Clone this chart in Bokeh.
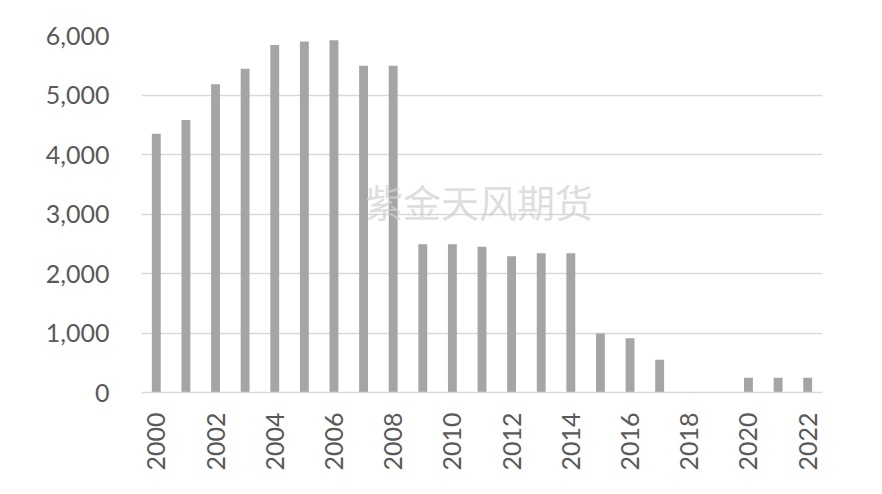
from bokeh.plotting import figure
from bokeh.models import Range1d, FixedTicker, NumeralTickFormatter, Label, CustomJSTickFormatter
from bokeh.embed import file_html
from bokeh.resources import INLINE
import math

years = list(range(2000, 2023))
values = [4350, 4580, 5180, 5440, 5840, 5900, 5920, 5490, 5490, 2490,
          2490, 2450, 2290, 2340, 2340, 990, 910, 550, 0, 0,
          250, 250, 250]
y_ticks = [0, 1000, 2000, 3000, 4000, 5000, 6000]
x_ticks = list(range(2000, 2023, 2))
watermark = "紫金天风期货"

FONT = "Lato"
TEXT_COLOR = "#595959"

p = figure(width=882, height=494, output_backend="svg", toolbar_location=None,
           x_range=Range1d(1999.5, 2022.5), y_range=Range1d(0, 6000),
           min_border_left=141, min_border_right=60, min_border_top=35,
           min_border_bottom=102)

p.vbar(x=years, top=values, width=0.3, color="#a5a5a5", line_color=None)

p.outline_line_color = None
p.xgrid.grid_line_color = None
p.ygrid.grid_line_color = "#d9d9d9"
p.ygrid.grid_line_width = 1.5
p.ygrid.ticker = FixedTicker(ticks=y_ticks)

p.yaxis.ticker = FixedTicker(ticks=y_ticks)
p.yaxis.formatter = NumeralTickFormatter(format="0,0")
p.yaxis.axis_line_color = None
p.yaxis.major_tick_line_color = None
p.yaxis.minor_tick_line_color = None
p.yaxis.major_label_standoff = 26
p.yaxis.major_label_text_font = FONT
p.yaxis.major_label_text_font_size = "25px"
p.yaxis.major_label_text_color = TEXT_COLOR

p.xaxis.ticker = FixedTicker(ticks=x_ticks)
p.xaxis.formatter = CustomJSTickFormatter(code="return String(tick);")
p.xaxis.axis_line_color = "#d9d9d9"
p.xaxis.axis_line_width = 1.5
p.xaxis.major_tick_line_color = None
p.xaxis.minor_tick_line_color = None
p.xaxis.major_label_orientation = math.pi / 2
p.xaxis.major_label_standoff = 14
p.xaxis.major_label_text_font = FONT
p.xaxis.major_label_text_font_size = "25px"
p.xaxis.major_label_text_color = TEXT_COLOR

p.add_layout(Label(x=2010.9, y=3222, text=watermark, text_align="center",
                   text_baseline="middle", text_font="Noto Sans CJK SC",
                   text_font_size="38px", text_color="#d0d0d0", text_alpha=0.7))

open("out.html", "w").write(file_html(p, INLINE))
